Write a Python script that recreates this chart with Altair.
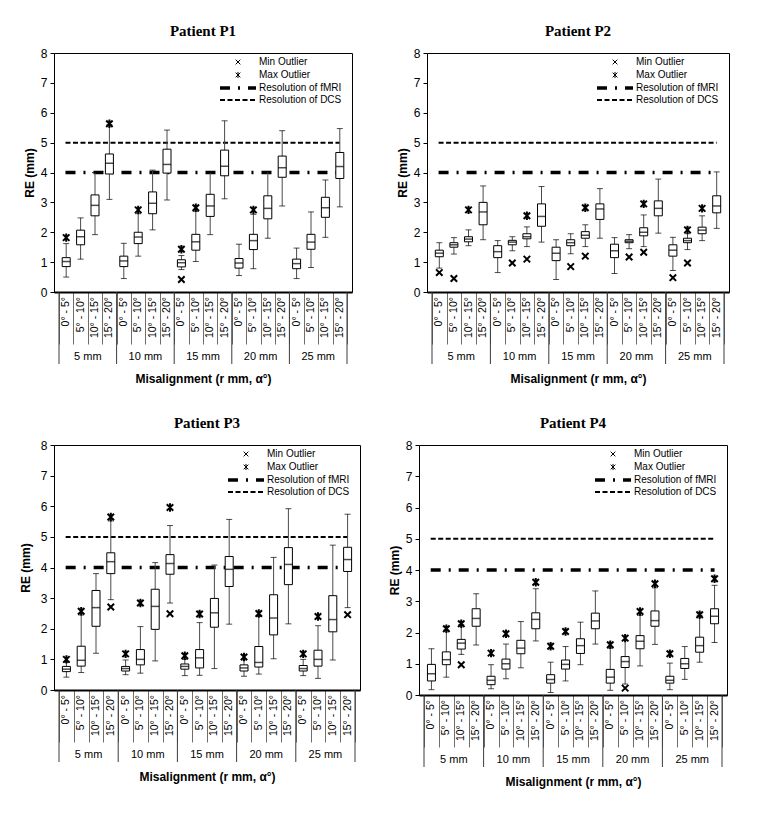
import altair as alt
import pandas as pd

# ---------------- data ----------------
ANGLES = ["0° - 5°", "5° - 10°", "10° - 15°", "15° - 20°"]
RADII = ["5 mm", "10 mm", "15 mm", "20 mm", "25 mm"]
LEGEND_LABELS = ["Min Outlier", "Max Outlier", "Resolution of fMRI", "Resolution of DCS"]
REF_FMRI = 4
REF_DCS = 5

P1_LO  = [0.50, 1.10, 1.92, 3.10, 0.45, 1.20, 2.08, 3.08, 0.75, 1.02, 1.92, 3.12, 0.55, 0.78, 1.80, 2.88, 0.45, 0.82, 1.83, 2.85]
P1_Q1  = [0.85, 1.58, 2.55, 3.95, 0.85, 1.62, 2.62, 3.98, 0.84, 1.40, 2.53, 3.89, 0.80, 1.42, 2.45, 3.84, 0.78, 1.43, 2.50, 3.80]
P1_MED = [1.02, 1.85, 2.90, 4.31, 1.04, 1.84, 2.97, 4.27, 0.98, 1.68, 2.88, 4.21, 0.97, 1.72, 2.80, 4.16, 0.95, 1.67, 2.82, 4.20]
P1_Q3  = [1.15, 2.07, 3.25, 4.62, 1.20, 2.00, 3.35, 4.78, 1.08, 1.93, 3.27, 4.75, 1.12, 1.93, 3.22, 4.55, 1.10, 1.93, 3.17, 4.67]
P1_HI  = [1.62, 2.48, 4.00, 5.60, 1.63, 2.62, 4.08, 5.42, 1.22, 2.70, 4.00, 5.73, 1.60, 2.60, 4.02, 5.40, 1.47, 2.68, 3.75, 5.47]
P1_MAX = [1.82, None, None, 5.63, None, 2.75, None, None, 1.43, 2.82, None, None, None, 2.75, None, None, None, None, None, None]
P1_MIN = [None, None, None, None, None, None, None, None, 0.42, None, None, None, None, None, None, None, None, None, None, None]

P2_LO  = [0.80, 1.27, 1.55, 1.75, 0.65, 1.38, 1.52, 1.67, 0.42, 1.28, 1.52, 1.80, 0.62, 1.45, 1.52, 1.97, 0.72, 1.42, 1.72, 2.13]
P2_Q1  = [1.18, 1.50, 1.68, 2.25, 1.15, 1.58, 1.78, 2.20, 1.05, 1.55, 1.80, 2.43, 1.15, 1.65, 1.88, 2.55, 1.20, 1.65, 1.95, 2.65]
P2_MED = [1.30, 1.58, 1.77, 2.68, 1.35, 1.67, 1.85, 2.53, 1.30, 1.65, 1.90, 2.78, 1.38, 1.70, 2.00, 2.80, 1.40, 1.72, 2.07, 2.88]
P2_Q3  = [1.40, 1.65, 1.85, 3.00, 1.55, 1.73, 1.95, 2.95, 1.50, 1.75, 2.02, 2.95, 1.60, 1.75, 2.15, 3.05, 1.58, 1.80, 2.17, 3.22]
P2_HI  = [1.65, 1.82, 2.08, 3.55, 1.72, 1.85, 2.18, 3.53, 1.75, 1.95, 2.25, 3.46, 1.82, 1.92, 2.58, 3.78, 1.83, 1.95, 2.55, 4.02]
P2_MAX = [None, None, 2.75, None, None, None, 2.55, None, None, None, 2.82, None, None, None, 2.95, None, None, 2.08, 2.80, None]
P2_MIN = [0.65, 0.45, None, None, None, 0.97, 1.10, None, None, 0.85, 1.20, None, None, 1.17, 1.33, None, 0.48, 0.97, None, None]

P3_LO  = [0.42, 0.57, 1.20, 2.95, 0.50, 0.55, 0.95, 2.84, 0.47, 0.48, 0.70, 2.15, 0.45, 0.52, 1.02, 2.16, 0.47, 0.38, 0.98, 2.69]
P3_Q1  = [0.60, 0.78, 2.08, 3.80, 0.62, 0.82, 1.98, 3.78, 0.68, 0.72, 2.05, 3.38, 0.62, 0.75, 1.80, 3.44, 0.62, 0.78, 1.90, 3.87]
P3_MED = [0.68, 0.97, 2.69, 4.19, 0.70, 1.00, 2.73, 4.13, 0.77, 1.05, 2.52, 3.94, 0.72, 0.90, 2.35, 4.10, 0.70, 1.00, 2.30, 4.26]
P3_Q3  = [0.77, 1.43, 3.25, 4.48, 0.77, 1.32, 3.29, 4.42, 0.85, 1.32, 2.99, 4.36, 0.82, 1.42, 3.11, 4.65, 0.80, 1.30, 3.08, 4.66]
P3_HI  = [0.90, 2.45, 3.80, 5.52, 0.98, 2.07, 4.16, 5.37, 1.00, 2.20, 4.08, 5.57, 0.98, 2.40, 4.33, 5.92, 1.00, 2.10, 4.73, 5.74]
P3_MAX = [1.00, 2.57, None, 5.65, 1.18, 2.84, None, 5.96, 1.12, 2.48, None, None, 1.08, 2.50, None, None, 1.18, 2.40, None, None]
P3_MIN = [None, None, None, 2.71, None, None, None, 2.49, None, None, None, None, None, None, None, None, None, None, None, 2.46]

P4_LO  = [0.17, 0.57, 1.30, 1.60, 0.20, 0.52, 0.87, 1.73, 0.08, 0.45, 0.97, 1.63, 0.15, 0.35, 0.93, 1.62, 0.17, 0.50, 1.05, 1.68]
P4_Q1  = [0.45, 0.97, 1.47, 2.20, 0.33, 0.83, 1.32, 2.12, 0.38, 0.83, 1.33, 2.12, 0.38, 0.88, 1.48, 2.20, 0.38, 0.85, 1.37, 2.28]
P4_MED = [0.68, 1.13, 1.66, 2.45, 0.47, 1.00, 1.50, 2.42, 0.50, 0.98, 1.58, 2.37, 0.57, 1.07, 1.72, 2.38, 0.47, 1.00, 1.58, 2.52]
P4_Q3  = [0.98, 1.38, 1.78, 2.76, 0.60, 1.15, 1.75, 2.63, 0.65, 1.12, 1.80, 2.62, 0.82, 1.23, 1.90, 2.69, 0.60, 1.17, 1.85, 2.76]
P4_HI  = [1.48, 2.08, 2.25, 3.24, 0.97, 1.63, 2.35, 3.40, 1.05, 1.55, 2.33, 3.33, 1.50, 1.75, 2.55, 3.43, 1.02, 1.55, 2.55, 3.51]
P4_MAX = [None, 2.12, 2.28, None, 1.34, 1.96, None, 3.61, 1.56, 2.03, None, None, 1.61, 1.82, 2.67, 3.56, 1.32, None, 2.57, 3.72]
P4_MIN = [None, None, 0.97, None, None, None, None, None, None, None, None, None, None, 0.22, None, None, None, None, None, None]

# ---------------- style ----------------
SANS = "Liberation Sans"
SERIF = "Liberation Serif"
MIN_SHAPE = "M-1,-1L1,1M-1,1L1,-1"
MAX_SHAPE = "M-1,-1L1,1M-1,1L1,-1M0,-1.3L0,1.3"
FMRI_DASH = [10, 8, 2, 8]
DCS_DASH = [5, 2.5]


def panel(title, lo, q1, med, q3, hi, mx, mn, W, H, ytp=4):
    n_a = len(ANGLES)
    n = len(lo)
    rows = []
    for i in range(n):
        rows.append(dict(pos=i + 0.5, lo=lo[i], q1=q1[i], med=med[i], q3=q3[i], hi=hi[i],
                         mx=mx[i], mn=mn[i], angle=ANGLES[i % n_a]))
    df = pd.DataFrame(rows)
    groups = pd.DataFrame({"g": RADII, "c": [k * n_a + n_a / 2 for k in range(len(RADII))]})
    bounds = pd.DataFrame({"b": [k * n_a for k in range(len(RADII) + 1)]})
    refs = pd.DataFrame({"v": [REF_FMRI, REF_DCS], "kind": ["fMRI", "DCS"]})

    xs = alt.Scale(domain=[0, n], nice=False, zero=False)
    ys = alt.Scale(domain=[0, 8], nice=False)
    x_axis = alt.Axis(values=list(range(n + 1)), labels=False, tickSize=52, tickColor="#6e6e6e",
                      tickWidth=1, domainWidth=2, domainColor="black", grid=False,
                      title="Misalignment (r mm, α°)", titleFontSize=12, titleFontWeight="bold",
                      titlePadding=29, titleColor="black", titleFont=SANS)
    y_axis = alt.Axis(values=list(range(9)), tickSize=4, grid=False, labelFontSize=12,
                      labelPadding=3, title="RE (mm)", titleFontSize=12, titleFontWeight="bold",
                      titlePadding=ytp, domainColor="black", tickColor="black", labelColor="black",
                      titleColor="black", labelFont=SANS, titleFont=SANS)

    def X(f="pos"):
        return alt.X(f"{f}:Q", scale=xs, axis=x_axis)

    def Y(f):
        return alt.Y(f"{f}:Q", scale=ys, axis=y_axis)

    base = alt.Chart(df)
    whisk = base.mark_rule(color="#4a4a4a", strokeWidth=1).encode(x=X(), y=Y("lo"), y2="hi:Q")
    cap_lo = base.mark_tick(orient="horizontal", size=6, thickness=1, color="black").encode(x=X(), y=Y("lo"))
    cap_hi = base.mark_tick(orient="horizontal", size=6, thickness=1, color="black").encode(x=X(), y=Y("hi"))
    box = base.mark_bar(size=8, fill="white", stroke="black", strokeWidth=1).encode(x=X(), y=Y("q1"), y2="q3:Q")
    median = base.mark_tick(orient="horizontal", size=8, thickness=1.5, color="black").encode(x=X(), y=Y("med"))
    mxp = base.transform_filter("isValid(datum.mx)").mark_point(
        shape=MAX_SHAPE, size=42, filled=False, stroke="black", strokeWidth=2, opacity=1
    ).encode(x=X(), y=Y("mx"))
    mnp = base.transform_filter("isValid(datum.mn)").mark_point(
        shape=MIN_SHAPE, size=42, filled=False, stroke="black", strokeWidth=2, opacity=1
    ).encode(x=X(), y=Y("mn"))

    ref_f = alt.Chart(refs).transform_filter("datum.kind == 'fMRI'").mark_rule(
        color="black", strokeWidth=3.5, strokeDash=FMRI_DASH
    ).encode(y=Y("v"), x=alt.datum(0.45, scale=xs, axis=x_axis), x2=alt.datum(n - 0.5))
    ref_d = alt.Chart(refs).transform_filter("datum.kind == 'DCS'").mark_rule(
        color="black", strokeWidth=2, strokeDash=DCS_DASH
    ).encode(y=Y("v"), x=alt.datum(0.45, scale=xs, axis=x_axis), x2=alt.datum(n - 0.5))

    ang = base.mark_text(angle=270, align="right", baseline="middle", fontSize=10.5, font=SANS,
                         color="black").encode(x=X(), y=alt.value(H + 5), text="angle:N")
    seps = alt.Chart(bounds).mark_rule(color="#3c3c3c", strokeWidth=1).encode(
        x=X("b"), y=alt.value(H), y2=alt.value(H + 72))
    glab = alt.Chart(groups).mark_text(fontSize=11, font=SANS, color="black", baseline="middle").encode(
        x=X("c"), y=alt.value(H + 65), text="g:N")

    # legend
    sx, tx, l0, l1 = W - 114, W - 93, W - 132, W - 96
    ly = [9, 22, 35, 47]
    leg = []
    for k, lab in enumerate(LEGEND_LABELS):
        leg.append(alt.Chart(pd.DataFrame({"t": [lab]})).mark_text(
            align="left", baseline="middle", fontSize=10, font=SANS, color="black"
        ).encode(x=alt.value(tx), y=alt.value(ly[k]), text="t:N"))
    leg.append(alt.Chart(pd.DataFrame({"t": [LEGEND_LABELS[0]]})).mark_point(
        shape=MIN_SHAPE, size=22, filled=False, stroke="black", strokeWidth=1, opacity=1
    ).encode(x=alt.value(sx), y=alt.value(ly[0])))
    leg.append(alt.Chart(pd.DataFrame({"t": [LEGEND_LABELS[1]]})).mark_point(
        shape=MAX_SHAPE, size=22, filled=False, stroke="black", strokeWidth=1, opacity=1
    ).encode(x=alt.value(sx), y=alt.value(ly[1])))
    leg.append(alt.Chart(pd.DataFrame({"t": [LEGEND_LABELS[2]]})).mark_rule(
        color="black", strokeWidth=3.5, strokeDash=FMRI_DASH
    ).encode(x=alt.value(l0), x2=alt.value(l1), y=alt.value(ly[2])))
    leg.append(alt.Chart(pd.DataFrame({"t": [LEGEND_LABELS[3]]})).mark_rule(
        color="black", strokeWidth=2, strokeDash=DCS_DASH
    ).encode(x=alt.value(l0), x2=alt.value(l1), y=alt.value(ly[3])))

    return alt.layer(ref_f, ref_d, whisk, cap_lo, cap_hi, box, median, mxp, mnp,
                     ang, seps, glab, *leg).properties(
        width=W, height=H,
        title=alt.TitleParams(title, font=SERIF, fontSize=15, fontWeight="bold",
                              anchor="middle", offset=8, color="black"))


p1 = panel("Patient P1", P1_LO, P1_Q1, P1_MED, P1_Q3, P1_HI, P1_MAX, P1_MIN, 298, 239)
p2 = panel("Patient P2", P2_LO, P2_Q1, P2_MED, P2_Q3, P2_HI, P2_MAX, P2_MIN, 302, 239)
p3 = panel("Patient P3", P3_LO, P3_Q1, P3_MED, P3_Q3, P3_HI, P3_MAX, P3_MIN, 306, 245, ytp=8)
p4 = panel("Patient P4", P4_LO, P4_Q1, P4_MED, P4_Q3, P4_HI, P4_MAX, P4_MIN, 308, 250)

row1 = alt.hconcat(p1, p2, spacing=42)
row2 = alt.hconcat(p3, p4, spacing=26)
chart = alt.vconcat(row1, row2, spacing=30, background="white",
                    padding={"left": 10, "top": 15, "right": 5, "bottom": 5}).configure_view(
    stroke="black", strokeWidth=1
)

chart.save("out.html", embed_options={"renderer": "svg", "actions": False})
